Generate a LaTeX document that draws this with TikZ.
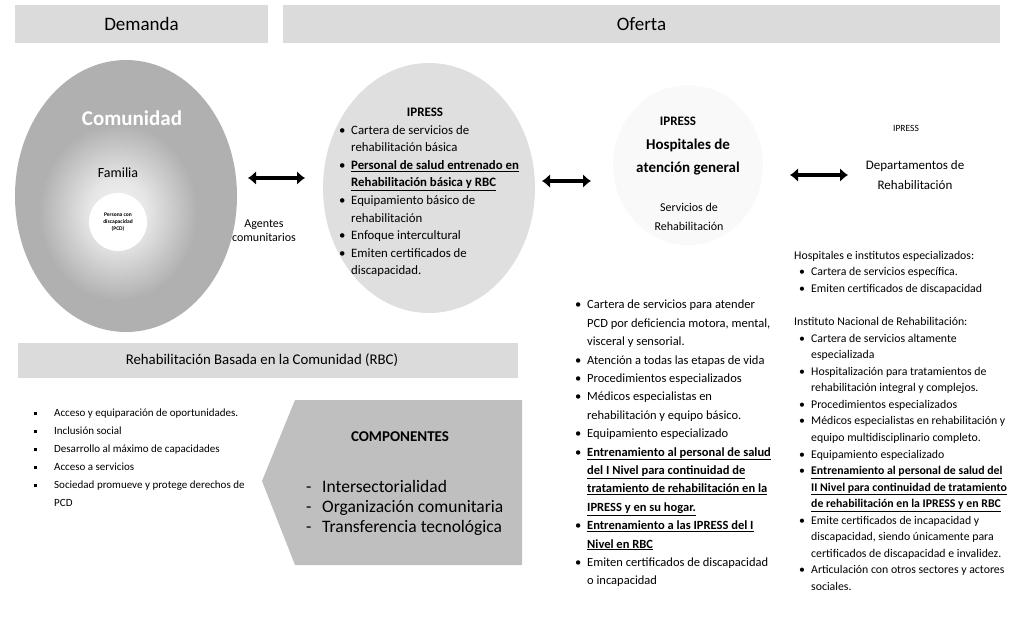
\documentclass[tikz,border=0pt]{standalone}
\usepackage{fontspec}
\setmainfont{Carlito}
\usetikzlibrary{arrows.meta, shapes.geometric, backgrounds}
\newcommand\fsz[2]{\fontsize{#1}{#2}\selectfont}
\newcommand\itm{\makebox[12pt][l]{\textbullet}}
\newcommand\cnt{\hspace*{12pt}}
\newcommand\sqitm{\makebox[20pt][l]{\rule[1.5pt]{2.6pt}{3.6pt}}}
\newcommand\ubf[1]{\underline{\textbf{#1}}}
\pgfdeclareradialshading{famshade}{\pgfpoint{0bp}{0bp}}{%
    color(0bp)=(gray!8); color(9bp)=(gray!20); color(24bp)=(gray!62); color(50bp)=(gray!62)}
\tikzset{
    band/.style={fill=gray!28,draw=none,inner sep=0pt,minimum height=38pt,font=\fsz{19}{19}},
    dots/.style={ellipse,draw=none,inner sep=0pt},
    dblarrow/.style={{Latex[length=8pt,width=14pt]}-{Latex[length=8pt,width=14pt]},line width=4.5pt},
    ltext/.style={align=left,anchor=north west,inner sep=0pt},
    ctext/.style={align=center,inner sep=0pt},
}
\begin{document}
\begin{tikzpicture}[x=1pt,y=-1pt]
\useasboundingbox (0,0) rectangle (1025,630);
\node[band,minimum width=253pt] (dem) at (141.5,24) {Demanda};
\node[band,minimum width=717pt] (ofe) at (641.5,24) {Oferta};
\node[band,minimum width=500pt,minimum height=35pt] (rbc) at (268,360) {};
\node[ctext,font=\fsz{14.8}{14.8}] (rbclbl) at (262,360) {Rehabilitación Basada en la Comunidad (RBC)};

\node[dots,minimum width=222pt,minimum height=272pt,fill=gray!62] (com) at (126,196) {};
\node[dots,minimum width=165pt,minimum height=185pt,shading=famshade] (famring) at (118,212) {};
\node[circle,fill=white,minimum size=58pt,inner sep=0pt,align=center,font=\bfseries\fsz{5.5}{7}] (pcd) at (118,222)
    {Persona con\\discapacidad\\(PCD)};
\node[ctext,text=white,font=\bfseries\fsz{21}{21}] (comlbl) at (132,118) {Comunidad};
\node[ctext,font=\fsz{14}{14}] (fam) at (118,173) {Familia};

\node[dots,fill=gray!25,minimum width=212pt,minimum height=250pt] (ipress) at (429,188) {};
\node[dots,fill=gray!5,minimum width=150pt,minimum height=160pt] (hosp) at (688,165) {};

\node[ctext,font=\fsz{12}{14}] (agentes) at (264,231) {Agentes\\comunitarios};
\node[ctext,font=\bfseries\fsz{13}{13}] (ipt) at (425,112) {IPRESS};
\node[ltext,font=\fsz{12.8}{17.6}] (iplist) at (339,125) {%
\itm Cartera de servicios de\\
\cnt rehabilitación básica\\
\itm \ubf{Personal de salud entrenado en}\\
\cnt \ubf{Rehabilitación básica y RBC}\\
\itm Equipamiento básico de\\
\cnt rehabilitación\\
\itm Enfoque intercultural\\
\itm Emiten certificados de\\
\cnt discapacidad.};

\node[ctext,font=\bfseries\fsz{13}{13}] (hipt) at (678,121) {IPRESS};
\node[ctext,font=\bfseries\fsz{15}{23}] (hgen) at (688,157) {Hospitales de\\atención general};
\node[ctext,font=\fsz{12}{19}] (hserv) at (689,217) {Servicios de\\Rehabilitación};

\node[ctext,font=\fsz{9.5}{9.5}] (dipt) at (906,128) {IPRESS};
\node[ctext,font=\fsz{13}{20}] (dep) at (915,175) {Departamentos de\\Rehabilitación};

\coordinate (a1l) at (248,178);
\coordinate (a1r) at (305,178);
\coordinate (a2l) at (542,181);
\coordinate (a2r) at (591,181);
\coordinate (a3l) at (790,175);
\coordinate (a3r) at (848,175);
\draw[dblarrow] (a1l) -- (a1r);
\draw[dblarrow] (a2l) -- (a2r);
\draw[dblarrow] (a3l) -- (a3r);

\node[ltext,font=\fsz{11}{18}] (objs) at (34,409) {%
\sqitm Acceso y equiparación de oportunidades.\\
\sqitm Inclusión social\\
\sqitm Desarrollo al máximo de capacidades\\
\sqitm Acceso a servicios\\
\sqitm Sociedad promueve y protege derechos de\\
\hspace*{20pt}PCD};

\fill[gray!50] (262,481) -- (295,400) -- (522,400) -- (522,565) -- (295,565) -- cycle;
\node[ctext,font=\bfseries\fsz{15}{15}] (comp) at (400,437) {COMPONENTES};
\node[ltext,font=\fsz{17.5}{20}] (complist) at (306,480) {%
\makebox[16pt][l]{-}Intersectorialidad\\
\makebox[16pt][l]{-}Organización comunitaria\\
\makebox[16pt][l]{-}Transferencia tecnológica};

\node[ltext,font=\fsz{12.5}{18.4}] (hlist) at (575,300) {%
\itm Cartera de servicios para atender\\
\cnt PCD por deficiencia motora, mental,\\
\cnt visceral y sensorial.\\
\itm Atención a todas las etapas de vida\\
\itm Procedimientos especializados\\
\itm Médicos especialistas en\\
\cnt rehabilitación y equipo básico.\\
\itm Equipamiento especializado\\
\itm \ubf{Entrenamiento al personal de salud}\\
\cnt \ubf{del I Nivel para continuidad de}\\
\cnt \ubf{tratamiento de rehabilitación en la}\\
\cnt \ubf{IPRESS y en su hogar.}\\
\itm \ubf{Entrenamiento a las IPRESS del I}\\
\cnt \ubf{Nivel en RBC}\\
\itm Emiten certificados de discapacidad\\
\cnt o incapacidad};

\node[ltext,font=\fsz{11.8}{16.55}] (dlist) at (799,251) {%
\hspace*{-5pt}Hospitales e institutos especializados:\\
\itm Cartera de servicios específica.\\
\itm Emiten certificados de discapacidad\\
\mbox{}\\
\hspace*{-5pt}Instituto Nacional de Rehabilitación:\\
\itm Cartera de servicios altamente\\
\cnt especializada\\
\itm Hospitalización para tratamientos de\\
\cnt rehabilitación integral y complejos.\\
\itm Procedimientos especializados\\
\itm Médicos especialistas en rehabilitación y\\
\cnt equipo multidisciplinario completo.\\
\itm Equipamiento especializado\\
\itm \ubf{Entrenamiento al personal de salud del}\\
\cnt \ubf{II Nivel para continuidad de tratamiento}\\
\cnt \ubf{de rehabilitación en la IPRESS y en RBC}\\
\itm Emite certificados de incapacidad y\\
\cnt discapacidad, siendo únicamente para\\
\cnt certificados de discapacidad e invalidez.\\
\itm Articulación con otros sectores y actores\\
\cnt sociales.};
\end{tikzpicture}
\end{document}
